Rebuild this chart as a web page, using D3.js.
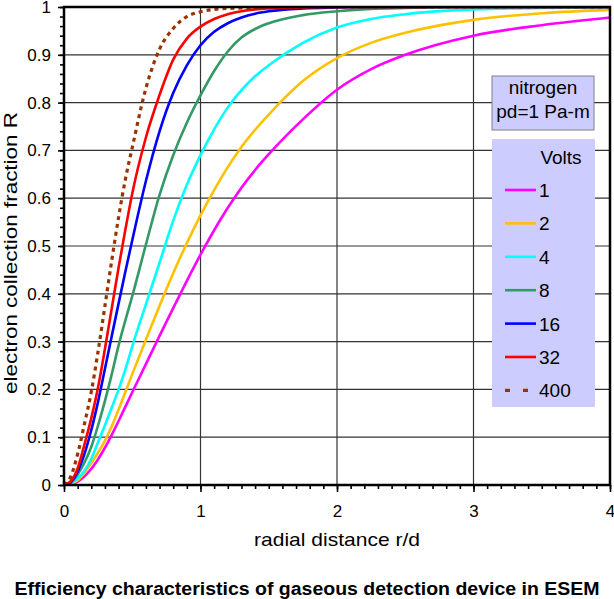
<!DOCTYPE html>
<html>
<head>
<meta charset="utf-8">
<script src="https://cdn.jsdelivr.net/npm/d3@7"></script>
<style>
  body { margin: 0; background: #fff; }
  text { font-family: "Liberation Sans", Arial, sans-serif; fill: #000; }
</style>
</head>
<body>
<div id="chart"></div>
<script>
let rValues = [0, 0.05, 0.1, 0.15, 0.2, 0.25, 0.3, 0.35, 0.4, 0.45, 0.5, 0.6, 0.7, 0.8, 0.9, 1, 1.1, 1.2, 1.3, 1.4, 1.5, 1.75, 2, 2.25, 2.5, 3, 3.5, 4];

// collection fraction R for each voltage
let volts1   = [0, 0.0015, 0.007, 0.018, 0.034, 0.054, 0.078, 0.105, 0.134, 0.164, 0.194, 0.253, 0.312, 0.37, 0.427, 0.482, 0.533, 0.58, 0.622, 0.659, 0.692, 0.765, 0.827, 0.87, 0.9, 0.94, 0.962, 0.978];
let volts2   = [0, 0.003, 0.01, 0.026, 0.046, 0.068, 0.093, 0.123, 0.158, 0.195, 0.232, 0.304, 0.375, 0.443, 0.506, 0.564, 0.617, 0.665, 0.707, 0.743, 0.775, 0.845, 0.893, 0.925, 0.946, 0.973, 0.987, 0.994];
let volts4   = [0, 0.004, 0.014, 0.03, 0.055, 0.09, 0.125, 0.162, 0.2, 0.242, 0.29, 0.378, 0.465, 0.553, 0.628, 0.69, 0.744, 0.79, 0.826, 0.855, 0.878, 0.925, 0.957, 0.975, 0.985, 0.995, 0.998, 0.999];
let volts8   = [0, 0.006, 0.022, 0.047, 0.08, 0.125, 0.176, 0.232, 0.292, 0.345, 0.395, 0.503, 0.607, 0.69, 0.758, 0.815, 0.866, 0.907, 0.936, 0.954, 0.966, 0.983, 0.991, 0.996, 0.998, 1, 1, 1];
let volts16  = [0, 0.006, 0.028, 0.065, 0.115, 0.175, 0.243, 0.312, 0.38, 0.447, 0.512, 0.636, 0.74, 0.82, 0.878, 0.92, 0.948, 0.966, 0.978, 0.986, 0.991, 0.997, 0.999, 1, 1, 1, 1, 1];
let volts32  = [0, 0.008, 0.035, 0.085, 0.14, 0.205, 0.285, 0.37, 0.455, 0.535, 0.61, 0.727, 0.816, 0.89, 0.934, 0.959, 0.975, 0.985, 0.991, 0.995, 0.997, 0.999, 1, 1, 1, 1, 1, 1];
let volts400 = [0, 0.018, 0.065, 0.128, 0.195, 0.28, 0.375, 0.47, 0.56, 0.64, 0.706, 0.83, 0.912, 0.955, 0.98, 0.99, 0.995, 0.997, 0.998, 0.999, 1, 1, 1, 1, 1, 1, 1, 1];

let seriesNames = ["1", "2", "4", "8", "16", "32", "400"];
let seriesColors = ["#ff00ff", "#ffc000", "#00ffff", "#339966", "#0000ff", "#ff0000", "#993300"];
let seriesValues = [volts1, volts2, volts4, volts8, volts16, volts32, volts400];

let xTicks = [0, 1, 2, 3, 4];
let yTicks = [0, 0.1, 0.2, 0.3, 0.4, 0.5, 0.6, 0.7, 0.8, 0.9, 1];

let margin = {top: 7, right: 4, bottom: 114, left: 64},
  width = 614 - margin.left - margin.right,
  height = 599 - margin.top - margin.bottom;

let svg = d3.select("#chart")
.append("svg")
  .attr("width", 614)
  .attr("height", 599);

let chart = svg.append("g")
  .attr("transform", "translate(" + margin.left + "," + margin.top + ")");

let x = d3.scaleLinear().domain([0, 4]).range([0, width]);
let y = d3.scaleLinear().domain([0, 1]).range([height, 0]);

// grid lines
chart.append("g")
  .selectAll("line")
  .data(yTicks.slice(1, -1))
  .enter()
  .append("line")
    .attr("x1", 0).attr("x2", width)
    .attr("y1", function(d) { return y(d); })
    .attr("y2", function(d) { return y(d); })
    .attr("stroke", "#333").attr("stroke-width", 1.2);

chart.append("g")
  .selectAll("line")
  .data(xTicks.slice(1, -1))
  .enter()
  .append("line")
    .attr("y1", 0).attr("y2", height)
    .attr("x1", function(d) { return x(d); })
    .attr("x2", function(d) { return x(d); })
    .attr("stroke", "#333").attr("stroke-width", 1.2);

// minor ticks, then the major ones with labels
let xMinor = d3.axisBottom(x).ticks(40).tickSize(4).tickFormat("");
let yMinor = d3.axisLeft(y).ticks(50).tickSize(4).tickFormat("");
chart.append("g").attr("class", "minor").attr("transform", "translate(0," + height + ")").call(xMinor);
chart.append("g").attr("class", "minor").call(yMinor);

let xAxis = d3.axisBottom(x).tickValues(xTicks).tickSize(7).tickPadding(13).tickFormat(d3.format("d"));
let yAxis = d3.axisLeft(y).tickValues(yTicks).tickSize(6).tickPadding(7).tickFormat(function(d) { return d === 0 || d === 1 ? d : d.toFixed(1); });
chart.append("g").attr("class", "major").attr("transform", "translate(0," + height + ")").call(xAxis);
chart.append("g").attr("class", "major").call(yAxis);

chart.selectAll(".minor path, .major path").remove();
chart.selectAll(".minor line, .major line").attr("stroke", "#000").attr("stroke-width", 1.6);
chart.selectAll(".major text").attr("font-size", "17px").attr("fill", "#000");

// curves
chart.append("clipPath").attr("id", "plotClip")
  .append("rect").attr("width", width).attr("height", height);

let line = d3.line()
  .x(function(d) { return x(d[0]); })
  .y(function(d) { return y(d[1]); })
  .curve(d3.curveMonotoneX);

chart.append("g")
  .attr("clip-path", "url(#plotClip)")
  .selectAll("path")
  .data(seriesValues)
  .enter()
  .append("path")
    .attr("d", function(d) { return line(d.map(function(v, i) { return [rValues[i], v]; })); })
    .attr("fill", "none")
    .attr("stroke", function(d, i) { return seriesColors[i]; })
    .attr("stroke-width", function(d, i) { return i === 6 ? 3.2 : 2.6; })
    .attr("stroke-dasharray", function(d, i) { return i === 6 ? "4,4" : null; });

// frame
chart.append("rect")
  .attr("width", width).attr("height", height)
  .attr("fill", "none").attr("stroke", "#000").attr("stroke-width", 2.5);

// axis titles
svg.append("text")
  .attr("x", margin.left + width / 2).attr("y", 546)
  .attr("text-anchor", "middle").attr("font-size", "19px")
  .attr("textLength", 166).attr("lengthAdjust", "spacingAndGlyphs")
  .text("radial distance r/d");

svg.append("text")
  .attr("transform", "translate(17," + (margin.top + height / 2 + 7) + ") rotate(-90)")
  .attr("text-anchor", "middle").attr("font-size", "19px")
  .attr("textLength", 282).attr("lengthAdjust", "spacingAndGlyphs")
  .text("electron collection fraction R");

svg.append("text")
  .attr("x", 307).attr("y", 595)
  .attr("text-anchor", "middle").attr("font-size", "18px").attr("font-weight", "bold")
  .attr("textLength", 585).attr("lengthAdjust", "spacingAndGlyphs")
  .text("Efficiency characteristics of gaseous detection device in ESEM");

// gas box
svg.append("rect")
  .attr("x", 492).attr("y", 76).attr("width", 102).attr("height", 54)
  .attr("fill", "#ccccff").attr("stroke", "#808080").attr("stroke-width", 1);
svg.append("text").attr("x", 543).attr("y", 94).attr("text-anchor", "middle").attr("font-size", "19px").text("nitrogen");
svg.append("text").attr("x", 543).attr("y", 118).attr("text-anchor", "middle").attr("font-size", "19px").text("pd=1 Pa-m");

// legend
let legend = svg.append("g");
legend.append("rect")
  .attr("x", 492).attr("y", 139).attr("width", 103).attr("height", 268)
  .attr("fill", "#ccccff");
legend.append("text").attr("x", 561).attr("y", 164).attr("text-anchor", "middle").attr("font-size", "19px").text("Volts");

let rows = legend.selectAll("g.row")
  .data(seriesNames)
  .enter()
  .append("g")
    .attr("class", "row")
    .attr("transform", function(d, i) { return "translate(505," + (190 + i * 33.4) + ")"; });

rows.append("line")
  .attr("x1", 0).attr("x2", 31)
  .attr("stroke", function(d, i) { return seriesColors[i]; })
  .attr("stroke-width", function(d, i) { return i === 6 ? 3.2 : 2.6; })
  .attr("stroke-dasharray", function(d, i) { return i === 6 ? "5,13" : null; });

rows.append("text")
  .attr("x", 34).attr("y", 7)
  .attr("font-size", "19px")
  .text(function(d) { return d; });
</script>
</body>
</html>
